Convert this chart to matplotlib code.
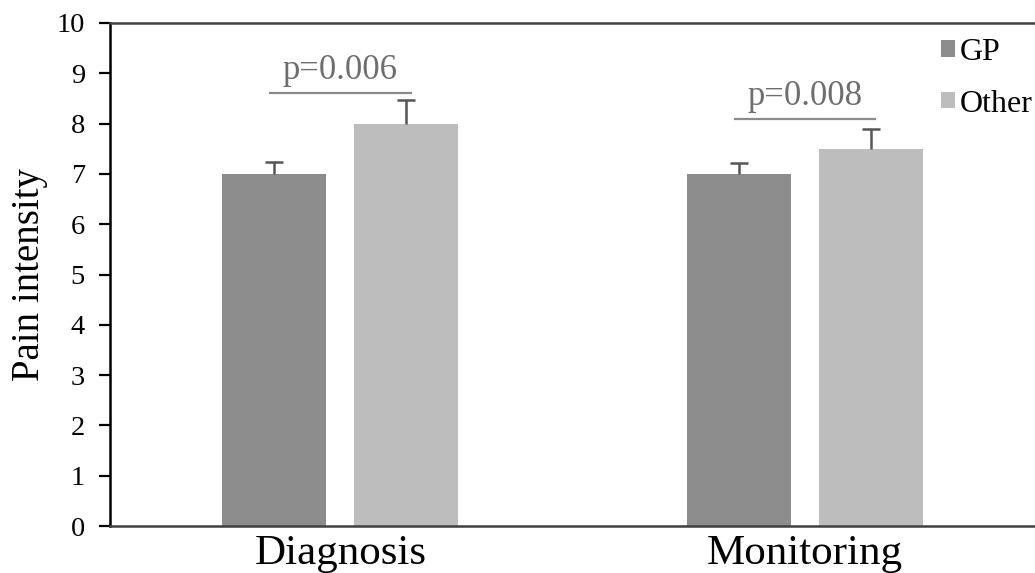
import numpy as np
import matplotlib
matplotlib.use('Agg')
import matplotlib.pyplot as plt

# data
categories = ['Diagnosis', 'Monitoring']
gp_values = [7.0, 7.0]
other_values = [8.0, 7.5]
gp_err = [0.24, 0.21]
other_err = [0.47, 0.40]
p_labels = ['p=0.006', 'p=0.008']
p_heights = [8.6, 8.09]

plt.rcParams['font.family'] = ['Liberation Serif', 'DejaVu Serif']

fig = plt.figure(figsize=(10.35, 5.73), dpi=100)
ax = fig.add_axes([110 / 1035, 47 / 573, 925 / 1035, 503 / 573])

x = np.arange(len(categories))
width = 0.224
off = 0.142
gp_col = '#8c8c8c'
other_col = '#bdbdbd'
err_col = '#555555'

ax.bar(x - off, gp_values, width, color=gp_col, label='GP', zorder=2)
ax.bar(x + off, other_values, width, color=other_col, label='Other', zorder=2)

# upper-only error bars (no cap at the bar top)
for xs, vals, errs in [(x - off, gp_values, gp_err), (x + off, other_values, other_err)]:
    tops = np.array(vals) + np.array(errs)
    ax.vlines(xs, vals, tops, color=err_col, lw=1.8, zorder=3)
    ax.plot(xs, tops, ls='none', marker='_', ms=13, mew=1.8, color=err_col, zorder=3)

# significance lines
for i in range(len(categories)):
    ax.plot([x[i] - 0.151, x[i] + 0.151], [p_heights[i], p_heights[i]],
            color='#8a8a8a', lw=1.6, zorder=3)
    ax.text(x[i], p_heights[i] + 0.12, p_labels[i], ha='center', va='bottom',
            fontsize=25, color='#6e6e6e')

ax.set_xlim(-0.496, 1.495)
ax.set_ylim(0, 10)
ax.set_yticks(range(0, 11))
ax.set_xticks(x)
ax.set_xticklabels(categories, fontsize=31)
ax.tick_params(axis='x', length=0, pad=6)
ax.tick_params(axis='y', labelsize=20.5, length=8, width=1.6, direction='out', pad=10)
ax.set_ylabel('Pain intensity', fontsize=28, labelpad=6)

ax.spines['right'].set_visible(False)
ax.spines['left'].set_linewidth(1.8)
ax.spines['left'].set_color('black')
ax.spines['top'].set_linewidth(1.8)
ax.spines['top'].set_color('#404040')
ax.spines['bottom'].set_linewidth(1.8)
ax.spines['bottom'].set_color('#404040')

ax.legend(loc='upper right', bbox_to_anchor=(1.018, 1.008), frameon=False,
          fontsize=23, handlelength=0.42, handleheight=0.42, handletextpad=0.15,
          labelspacing=0.7, borderaxespad=0.2)

fig.savefig('out.png', dpi=100)
